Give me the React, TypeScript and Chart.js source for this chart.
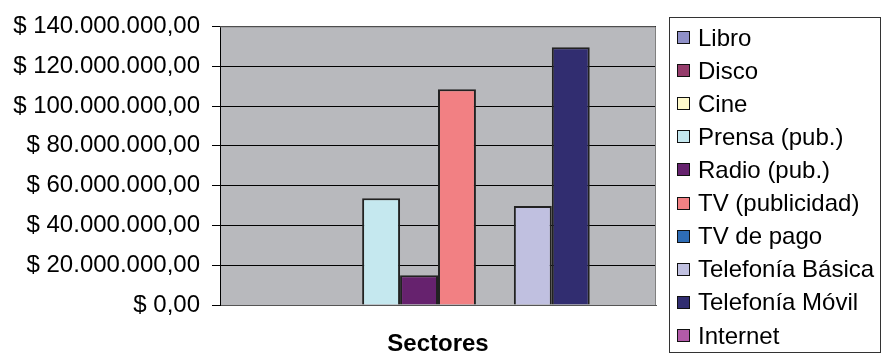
import React, { useEffect, useRef } from "react";
import { Chart, registerables } from "chart.js";

Chart.register(...registerables);

const categories = [""];
const seriesNames = [
  "Libro",
  "Disco",
  "Cine",
  "Prensa (pub.)",
  "Radio (pub.)",
  "TV (publicidad)",
  "TV de pago",
  "Telefonía Básica",
  "Telefonía Móvil",
  "Internet",
];
const seriesValues = [0, 0, 0, 53700000, 15000000, 108400000, 0, 49700000, 129500000, 0];
const seriesColors = [
  "#8F90C8",
  "#953C6B",
  "#FFFACC",
  "#C5E8EF",
  "#66226E",
  "#F28083",
  "#2E6CB5",
  "#C0C0E0",
  "#312D70",
  "#B25AA8",
];
const yMin = 0;
const yMax = 140000000;
const yStep = 20000000;
const xTitle = "Sectores";

const FONT = "'Liberation Sans', Arial, Helvetica, sans-serif";

function formatMoney(v: number): string {
  const n = Math.round(v);
  const s = n.toString().replace(/\B(?=(\d{3})+(?!\d))/g, ".");
  return "$ " + s + ",00";
}

const plotBgPlugin = {
  id: "plotBg",
  beforeDraw(chart: any) {
    const { ctx, chartArea } = chart;
    ctx.save();
    ctx.fillStyle = "#B8B9BD";
    ctx.fillRect(chartArea.left, chartArea.top, chartArea.right - chartArea.left, chartArea.bottom - chartArea.top);
    ctx.restore();
  },
  afterDraw(chart: any) {
    const { ctx, chartArea } = chart;
    ctx.save();
    ctx.strokeStyle = "#808080";
    ctx.lineWidth = 1;
    ctx.beginPath();
    ctx.moveTo(chartArea.left, chartArea.top + 0.5);
    ctx.lineTo(chartArea.right - 0.5, chartArea.top + 0.5);
    ctx.lineTo(chartArea.right - 0.5, chartArea.bottom);
    ctx.stroke();
    ctx.restore();
  },
};

const boxLegendPlugin = {
  id: "boxLegend",
  afterDraw(chart: any) {
    const { ctx } = chart;
    const ds = chart.data.datasets;
    const boxLeft = 669;
    const boxTop = 17;
    const boxRight = 880;
    const boxBottom = 352;
    ctx.save();
    ctx.strokeStyle = "#333";
    ctx.lineWidth = 1;
    ctx.strokeRect(boxLeft + 0.5, boxTop + 0.5, boxRight - boxLeft, boxBottom - boxTop);
    ctx.font = "24px " + FONT;
    ctx.textAlign = "left";
    ctx.textBaseline = "alphabetic";
    const step = 33.1;
    for (let i = 0; i < ds.length; i++) {
      const cy = 37 + i * step;
      const sq = 12;
      const sx = 677;
      const sy = Math.round(cy - sq / 2);
      ctx.fillStyle = ds[i].backgroundColor;
      ctx.fillRect(sx, sy, sq, sq);
      ctx.strokeStyle = "#111";
      ctx.strokeRect(sx + 0.5, sy + 0.5, sq, sq);
      ctx.fillStyle = "#000";
      ctx.fillText(ds[i].label, 698, cy + 8.6);
    }
    ctx.restore();
  },
};

export default function App() {
  const canvasRef = useRef<HTMLCanvasElement | null>(null);

  useEffect(() => {
    if (!canvasRef.current) return;
    const chart = new Chart(canvasRef.current, {
      type: "bar",
      data: {
        labels: categories,
        datasets: seriesNames.map((name, i) => ({
          label: name,
          data: [seriesValues[i]],
          backgroundColor: seriesColors[i],
          borderColor: "#222",
          borderWidth: 2,
          borderSkipped: "start",
          categoryPercentage: 0.87,
          barPercentage: 1,
        })),
      },
      options: {
        animation: false,
        responsive: true,
        maintainAspectRatio: false,
        layout: { padding: { left: 0, top: 26, right: 225, bottom: 0 } },
        plugins: {
          legend: { display: false },
          tooltip: { enabled: false },
          title: { display: false },
        },
        scales: {
          x: {
            grid: { display: false, drawTicks: false },
            border: { display: true, color: "#555", width: 1 },
            ticks: { display: false },
            title: {
              display: true,
              text: xTitle,
              color: "#000",
              font: { family: FONT, size: 24, weight: "bold", lineHeight: 0.8 },
              padding: { top: 0, bottom: 0 },
            },
            afterFit(scale: any) {
              scale.height = 49;
            },
          },
          y: {
            min: yMin,
            max: yMax,
            ticks: {
              stepSize: yStep,
              color: "#000",
              padding: 12,
              font: { family: FONT, size: 24 },
              callback: (v: any) => formatMoney(Number(v)),
            },
            grid: {
              color: "#000",
              lineWidth: 1,
              tickLength: 8,
              tickColor: "#000",
              drawTicks: true,
            },
            border: { display: true, color: "#000", width: 1 },
            afterFit(scale: any) {
              scale.width = 220;
            },
          },
        },
      },
      plugins: [plotBgPlugin, boxLegendPlugin],
    });
    return () => chart.destroy();
  }, []);

  return (
    <div style={{ position: "fixed", left: 0, top: 0, width: 881, height: 354, background: "#fff" }}>
      <canvas ref={canvasRef} />
    </div>
  );
}
